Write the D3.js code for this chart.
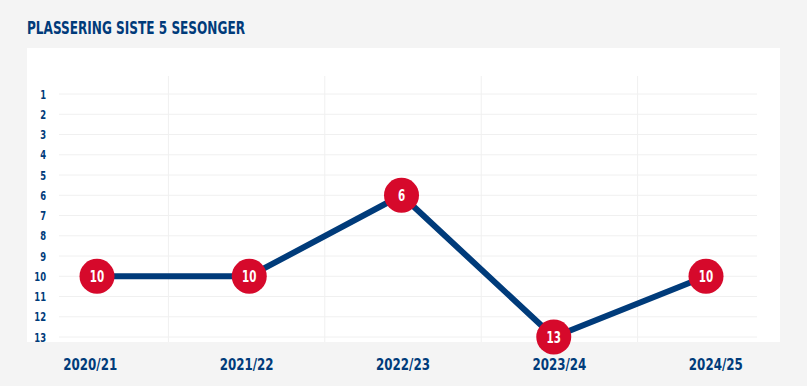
<!DOCTYPE html>
<html>
<head>
<meta charset="utf-8">
<script src="https://cdn.jsdelivr.net/npm/d3@7"></script>
<style>
  body { margin: 0; background: #f4f4f4; }
  svg { display: block; }
  text { font-family: "DejaVu Sans Condensed", "DejaVu Sans", sans-serif; font-weight: bold; font-stretch: condensed; }
</style>
</head>
<body>
<script>
const w = 807;
const h = 386;
const navy = "#003b7a";
const red = "#d6092b";
const font = "\"DejaVu Sans Condensed\", sans-serif";

const seasons = ["2020/21", "2021/22", "2022/23", "2023/24", "2024/25"];
const placements = [10, 10, 6, 13, 10];
const yTicks = [1, 2, 3, 4, 5, 6, 7, 8, 9, 10, 11, 12, 13];

const svg = d3.select("body").append("svg").attr("width", w).attr("height", h);

svg.append("rect").attr("width", w).attr("height", h).attr("fill", "#f4f4f4");

// title (narrow font look)
svg.append("text")
    .attr("x", 27)
    .attr("y", 34)
    .attr("fill", navy)
    .attr("textLength", 218)
    .attr("lengthAdjust", "spacingAndGlyphs")
    .style("font-size", "17px")
    .text("PLASSERING SISTE 5 SESONGER");

// white panel
svg.append("rect")
    .attr("x", 27).attr("y", 48)
    .attr("width", 753).attr("height", 294)
    .attr("fill", "#fff");

// band scale for labels + vertical gridlines, point scale for the line
const xBand = d3.scaleBand().domain(seasons).range([12, 794]);
const xPoint = d3.scalePoint().domain(seasons).range([97, 706]);
const y = d3.scaleLinear().domain([1, 13]).range([94, 337]);

// horizontal gridlines
svg.append("g")
    .selectAll("line")
    .data(yTicks)
    .enter()
    .append("line")
    .attr("x1", 59).attr("x2", 757)
    .attr("y1", d => y(d)).attr("y2", d => y(d))
    .attr("stroke", "#f0f0f0")
    .attr("stroke-width", 1);

// vertical gridlines between seasons
svg.append("g")
    .selectAll("line")
    .data(seasons.slice(1))
    .enter()
    .append("line")
    .attr("x1", d => xBand(d)).attr("x2", d => xBand(d))
    .attr("y1", 76).attr("y2", 342)
    .attr("stroke", "#f0f0f0")
    .attr("stroke-width", 1);

// y axis labels
const yAxis = d3.axisLeft(y).tickValues(yTicks).tickSize(0).tickPadding(0);
const gy = svg.append("g").attr("transform", "translate(46,0)").call(yAxis);
gy.select(".domain").remove();
gy.selectAll("text")
    .attr("fill", navy)
    .attr("transform", "scale(0.72,1)")
    .style("font-size", "13px")
    .style("font-family", font)
    .style("font-weight", "bold");

// x axis labels
const xAxis = d3.axisBottom(xBand).tickSize(0).tickPadding(0);
const gx = svg.append("g").attr("transform", "translate(0,358)").call(xAxis);
gx.select(".domain").remove();
gx.selectAll("text")
    .attr("fill", navy)
    .attr("transform", "scale(0.8,1)")
    .style("font-size", "16.5px")
    .style("font-family", font)
    .style("font-weight", "bold");

// line
const line = d3.line()
    .x((d, i) => xPoint(seasons[i]))
    .y(d => y(d));

svg.append("path")
    .datum(placements)
    .attr("d", line)
    .attr("fill", "none")
    .attr("stroke", navy)
    .attr("stroke-width", 6);

// points
const pts = svg.append("g")
    .selectAll("g")
    .data(placements)
    .enter()
    .append("g")
    .attr("transform", (d, i) => "translate(" + xPoint(seasons[i]) + "," + y(d) + ")");

pts.append("circle")
    .attr("r", 17.5)
    .attr("fill", red);

pts.append("text")
    .attr("text-anchor", "middle")
    .attr("dy", "0.36em")
    .attr("fill", "#fff")
    .attr("transform", "scale(0.72,1)")
    .style("font-size", "16px")
    .text(d => d);
</script>
</body>
</html>
